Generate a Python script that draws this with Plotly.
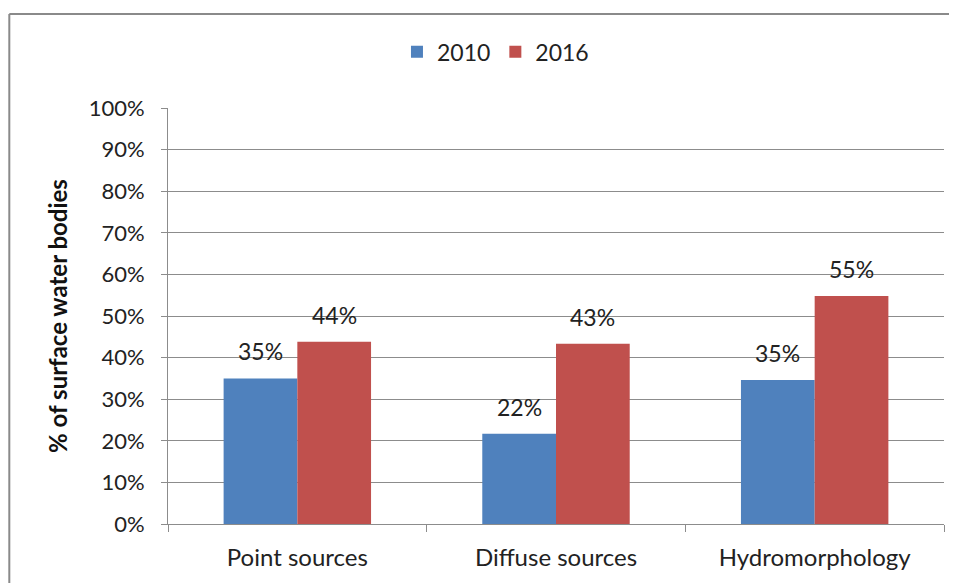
import plotly.graph_objects as go

# categories and values
categories = ["Point sources", "Diffuse sources", "Hydromorphology"]
values_2010 = [0.350, 0.217, 0.346]
values_2016 = [0.438, 0.433, 0.548]
y_ticks = [0, 0.1, 0.2, 0.3, 0.4, 0.5, 0.6, 0.7, 0.8, 0.9, 1.0]

FONT = "Lato"
GRID = "#8c8c8c"
BARGAP = 0.43
PLOT_W = 776  # plot area width in px
BAR_PX = PLOT_W / len(categories) * (1 - BARGAP) / 2

fig = go.Figure()

series = [("2010", values_2010, "#4F81BD", -1), ("2016", values_2016, "#C0504D", 1)]
for name, vals, color, side in series:
    fig.add_trace(
        go.Bar(
            name=name,
            x=categories,
            y=vals,
            marker=dict(color=color, line=dict(width=0)),
        )
    )
    # data labels sit a little above each bar, like the original
    for cat, v in zip(categories, vals):
        fig.add_annotation(
            x=cat,
            y=v,
            xref="x",
            yref="y",
            text=f"{v:.0%}",
            showarrow=False,
            xshift=side * BAR_PX / 2,
            yshift=27,
            yanchor="middle",
            font=dict(family=FONT, size=23, color="#222222"),
        )

# chart frame: only its top and left edges fall inside the picture
frame = dict(color="#8a8a8a", width=2)

fig.update_layout(
    width=957,
    height=583,
    barmode="group",
    bargap=BARGAP,
    bargroupgap=0,
    plot_bgcolor="white",
    paper_bgcolor="white",
    margin=dict(l=160, r=21, t=100, b=67),
    font=dict(family=FONT, size=22, color="#222222"),
    legend=dict(
        orientation="h",
        x=0.422,
        xanchor="center",
        y=1.135,
        yanchor="middle",
        font=dict(family=FONT, size=23),
        itemwidth=30,
        traceorder="normal",
    ),
    shapes=[
        dict(type="line", xref="paper", yref="paper",
             x0=-0.2045, x1=1.4, y0=1.226, y1=1.226, line=frame, layer="below"),
        dict(type="line", xref="paper", yref="paper",
             x0=-0.2045, x1=-0.2045, y0=-0.6, y1=1.226, line=frame, layer="below"),
    ],
)

fig.update_yaxes(
    range=[0, 1],
    tickvals=y_ticks,
    tickformat=".0%",
    showgrid=True,
    gridcolor=GRID,
    gridwidth=1,
    showline=True,
    linecolor=GRID,
    linewidth=1,
    ticks="outside",
    ticklen=6,
    tickcolor=GRID,
    ticklabelstandoff=12,
    tickfont=dict(family=FONT, size=22),
    zeroline=False,
    title=dict(
        text="<b>% of surface water bodies</b>",
        font=dict(family=FONT, size=24, color="#111111"),
        standoff=14,
    ),
)
fig.update_xaxes(
    showline=True,
    linecolor=GRID,
    linewidth=1,
    ticks="outside",
    tickson="boundaries",
    ticklen=7,
    tickcolor=GRID,
    ticklabelstandoff=12,
    tickfont=dict(family=FONT, size=24),
)

fig.write_html("out.html")
